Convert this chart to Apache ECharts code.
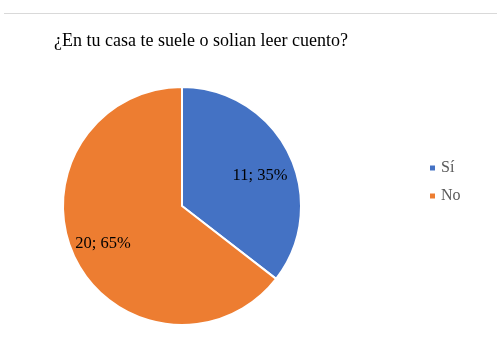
<!DOCTYPE html>
<html>
<head>
<meta charset="utf-8">
<script src="https://cdn.jsdelivr.net/npm/echarts@6/dist/echarts.min.js"></script>
<style>
html,body{margin:0;padding:0;background:#fff;}
#c{width:497px;height:351px;}
</style>
</head>
<body>
<div id="c"></div>
<script>
const titleText = '¿En tu casa te suele o solian leer cuento?';
const categories = ['Sí', 'No'];
const values = [11, 20];
const colors = ['#4472C4', '#ED7D31'];

const total = values.reduce((a, b) => a + b, 0);
const data = categories.map((n, i) => ({ name: n, value: values[i], itemStyle: { color: colors[i] } }));
const labelOffsets = [[-1, 8], [0, -1]];
const serif = '"Liberation Serif", "Times New Roman", serif';

const chart = echarts.init(document.getElementById('c'), null, { renderer: 'canvas' });
chart.setOption({
  backgroundColor: '#fff',
  animation: false,
  title: {
    text: titleText,
    left: 54,
    top: 32,
    padding: 0,
    textStyle: { fontFamily: serif, fontSize: 18, fontWeight: 'normal', color: '#000' }
  },
  legend: {
    orient: 'vertical',
    left: 423,
    top: 155,
    itemWidth: 7,
    itemHeight: 7,
    itemGap: 12,
    icon: 'rect',
    data: categories,
    textStyle: { fontFamily: serif, fontSize: 16, color: '#595959' }
  },
  graphic: [{
    type: 'line',
    shape: { x1: 4, y1: 13.5, x2: 497, y2: 13.5 },
    style: { stroke: '#d9d9d9', lineWidth: 1 },
    silent: true
  }],
  series: [
    {
      type: 'pie',
      center: [182, 206],
      radius: [0, 119],
      startAngle: 90,
      clockwise: true,
      label: { show: false },
      labelLine: { show: false },
      itemStyle: { borderColor: '#fff', borderWidth: 2 },
      emphasis: { disabled: true },
      data: data
    },
    {
      type: 'pie',
      center: [182, 206],
      radius: [51, 119],
      startAngle: 90,
      clockwise: true,
      silent: true,
      itemStyle: { color: 'rgba(0,0,0,0)', borderWidth: 0 },
      label: {
        show: true,
        position: 'inside',
        fontFamily: serif,
        fontSize: 16.5,
        color: '#000',
        formatter: p => p.value + '; ' + Math.round(p.value / total * 100) + '%'
      },
      labelLine: { show: false },
      emphasis: { disabled: true },
      data: categories.map((n, i) => ({ name: n, value: values[i], label: { offset: labelOffsets[i] } }))
    }
  ]
});
</script>
</body>
</html>
